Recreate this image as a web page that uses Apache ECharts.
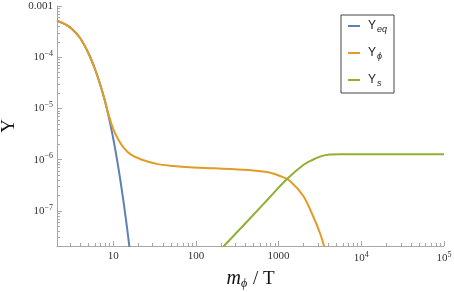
<!DOCTYPE html>
<html><head><meta charset="utf-8">
<script src="https://cdn.jsdelivr.net/npm/echarts@6/dist/echarts.min.js"></script>
<style>html,body{margin:0;padding:0;background:#fff}#c{width:454px;height:292px}</style>
</head><body><div id="c"></div>
<script>
// ---- data ----
const mPhiEq = [2.09, 2.61, 3.15, 3.97, 5.0, 6.03, 6.92, 7.74, 8.73, 9.15, 9.8, 10.5, 11.3, 12.1, 13.0, 13.9, 14.7, 15.5, 15.9];
const yEq    = [5.16e-4, 4.42e-4, 3.59e-4, 2.37e-4, 1.21e-4, 5.83e-5, 3.01e-5, 1.63e-5, 7.45e-6, 5.28e-6, 3.08e-6, 1.70e-6, 8.57e-7, 4.33e-7, 1.99e-7, 9.2e-8, 4.66e-8, 2.35e-8, 1.69e-8];

const mPhiPhi = [2.09, 2.61, 3.15, 3.97, 5.0, 6.03, 6.92, 7.74, 8.73, 10.0, 11.5, 13.5, 16.4, 22.3, 33.6, 53.3, 84.9, 170, 430, 750, 1089, 1373, 1990, 2630, 3170, 3540, 3650];
const yPhi    = [5.16e-4, 4.42e-4, 3.59e-4, 2.37e-4, 1.21e-4, 5.83e-5, 3.01e-5, 1.63e-5, 7.85e-6, 3.98e-6, 2.48e-6, 1.69e-6, 1.26e-6, 1.0e-6, 8.3e-7, 7.55e-7, 7.1e-7, 6.8e-7, 6.3e-7, 5.7e-7, 4.67e-7, 3.85e-7, 1.96e-7, 7.7e-8, 3.67e-8, 2.07e-8, 1.5e-8];

const mPhiS = [170, 214, 430, 787, 1253, 1990, 2630, 3170, 3700, 4190, 5530, 1e4, 1e5];
const yS    = [1.35e-8, 2.0e-8, 6.6e-8, 1.87e-7, 4.16e-7, 7.9e-7, 1.01e-6, 1.15e-6, 1.23e-6, 1.265e-6, 1.28e-6, 1.28e-6, 1.28e-6];

const seriesNames = ['Yeq', 'Yphi', 'Ys'];
const legendLabels = ['{y|Y}{sub|eq}', '{y|Y}{sub|ϕ}', '{y|Y}{sub|s}'];
const colors = ['#5E81B5', '#E19C24', '#8FB032'];

const xRange = [2.09, 1e5];
const yRange = [2.07e-8, 1e-3];
const xTicks = [10, 100, 1000, 1e4, 1e5];
const xTickLabels = ['10', '100', '1000', '10{s|4}', '10{s|5}'];
const yTicks = [1e-7, 1e-6, 1e-5, 1e-4, 1e-3];
const yTickLabels = ['10{s|−7}', '10{s|−6}', '10{s|−5}', '10{s|−4}', '0.001'];

// ---- build ----
const L = v => Math.log10(v);
function minorTicks(lo, hi) {
  const out = [];
  for (let n = Math.floor(L(lo)); n <= Math.ceil(L(hi)); n++) {
    for (let k = 2; k <= 9; k++) {
      const v = k * Math.pow(10, n);
      if (v >= lo && v <= hi) out.push(L(v));
    }
  }
  return out;
}
function pairs(xs, ys) { return xs.map((x, i) => [L(x), L(ys[i])]); }
function labelFor(ticks, labels) {
  return v => { const i = ticks.findIndex(t => Math.abs(L(t) - v) < 1e-6); return i >= 0 ? labels[i] : ''; };
}
const axisGray = '#a8a8a8';
const serif = 'Liberation Serif';
const supRich = { s: { fontSize: 8, fontFamily: serif, color: '#333', padding: [0, 0, 7, 0] } };

const chart = echarts.init(document.getElementById('c'), null, { renderer: 'canvas' });
chart.setOption({
  animation: false,
  backgroundColor: '#fff',
  grid: { left: 57, right: 10, top: 6, bottom: 46, containLabel: false, outerBoundsMode: 'none' },
  xAxis: [{
    type: 'value', min: L(xRange[0]), max: L(xRange[1]),
    axisLine: { lineStyle: { color: axisGray, width: 1 } },
    axisTick: { inside: true, length: 5, lineStyle: { color: axisGray }, customValues: xTicks.map(L) },
    axisLabel: { customValues: xTicks.map(L), formatter: labelFor(xTicks, xTickLabels), fontFamily: serif, fontSize: 11, color: '#333', margin: 5, rich: supRich },
    splitLine: { show: false },
    name: '{i|m}{sub|ϕ}{n| / T}', nameLocation: 'middle', nameGap: 21,
    nameTextStyle: { fontFamily: serif, fontSize: 19, color: '#111',
      rich: { i: { fontFamily: serif, fontStyle: 'italic', fontSize: 20, color: '#111' },
              sub: { fontFamily: serif, fontStyle: 'italic', fontSize: 12, color: '#111', padding: [9, 1, 0, 0] },
              n: { fontFamily: serif, fontSize: 19, color: '#111' } } }
  }, {
    type: 'value', min: L(xRange[0]), max: L(xRange[1]), position: 'bottom',
    axisLine: { show: false },
    axisTick: { inside: true, length: 3, lineStyle: { color: axisGray }, customValues: minorTicks(xRange[0], xRange[1]) },
    axisLabel: { show: false }, splitLine: { show: false }
  }],
  yAxis: [{
    type: 'value', min: L(yRange[0]), max: L(yRange[1]),
    axisLine: { show: true, lineStyle: { color: axisGray, width: 1 } },
    axisTick: { show: true, inside: true, length: 5, lineStyle: { color: axisGray }, customValues: yTicks.map(L) },
    axisLabel: { customValues: yTicks.map(L), formatter: labelFor(yTicks, yTickLabels), fontFamily: serif, fontSize: 11, color: '#333', margin: 4, rich: supRich },
    splitLine: { show: false },
    name: 'Y', nameLocation: 'middle', nameGap: 38, nameRotate: 90, nameMoveOverlap: false,
    nameTextStyle: { fontFamily: serif, fontSize: 19, color: '#111' }
  }, {
    type: 'value', min: L(yRange[0]), max: L(yRange[1]), position: 'left',
    axisLine: { show: false },
    axisTick: { show: true, inside: true, length: 3, lineStyle: { color: axisGray }, customValues: minorTicks(yRange[0], yRange[1]) },
    axisLabel: { show: false }, splitLine: { show: false }
  }],
  legend: {
    orient: 'vertical', left: 341, top: 15,
    data: seriesNames,
    formatter: n => legendLabels[seriesNames.indexOf(n)],
    icon: 'rect', itemWidth: 12, itemHeight: 2, itemGap: 13,
    borderColor: '#444', borderWidth: 1, borderRadius: 0, padding: [5, 7, 5, 7],
    textStyle: { fontFamily: 'Liberation Sans', fontSize: 12, color: '#222',
      rich: { y: { fontFamily: 'Liberation Sans', fontSize: 12, color: '#222', padding: [0, 0, 0, 3] },
              sub: { fontFamily: 'Liberation Sans', fontStyle: 'italic', fontSize: 9, color: '#222', padding: [7, 0, 0, 1] } } }
  },
  series: [
    { name: seriesNames[0], type: 'line', data: pairs(mPhiEq, yEq), color: colors[0] },
    { name: seriesNames[1], type: 'line', data: pairs(mPhiPhi, yPhi), color: colors[1] },
    { name: seriesNames[2], type: 'line', data: pairs(mPhiS, yS), color: colors[2] }
  ].map(s => Object.assign(s, { showSymbol: false, symbol: 'none', smooth: 0.35, clip: true, lineStyle: { width: 2, color: s.color }, itemStyle: { color: s.color } }))
});
</script></body></html>
